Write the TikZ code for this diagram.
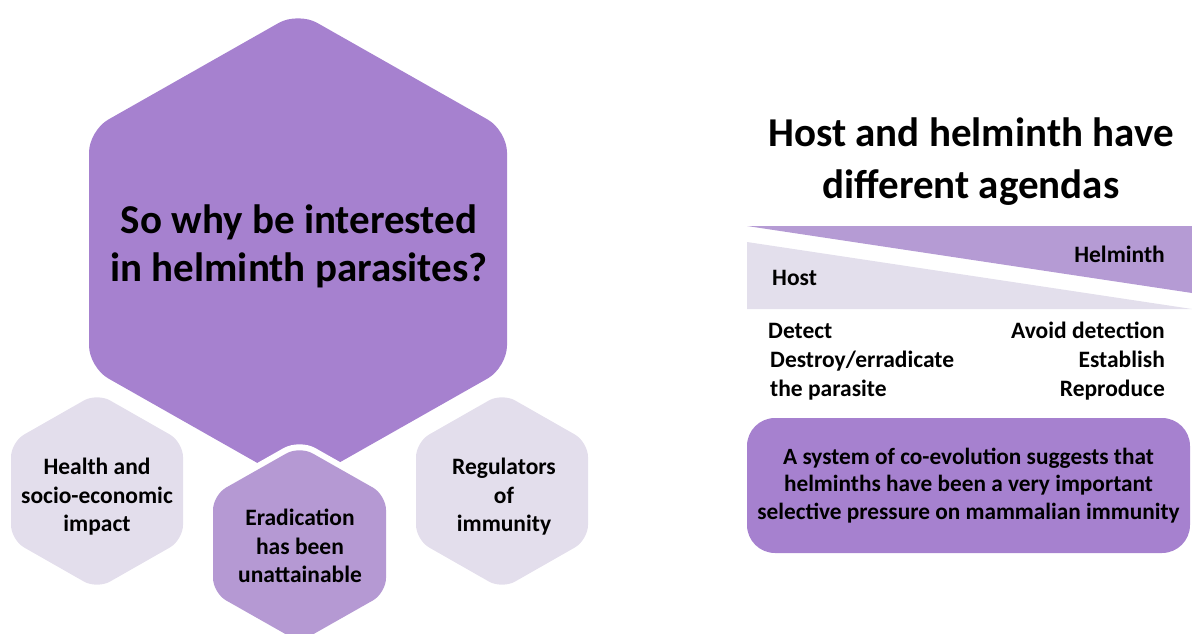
\documentclass[tikz,border=0pt]{standalone}
\usepackage{fontspec}
\setmainfont{Carlito}
\definecolor{hexdeep}{HTML}{A681CF}
\definecolor{hexmid}{HTML}{B599D3}
\definecolor{hexpale}{HTML}{E3DEEC}
\definecolor{wedgedark}{HTML}{B59BD4}
\definecolor{wedgepale}{HTML}{E3DFEC}
% pointy-topped hexagon: centre (#1,#2), half width #3, half height #4
\newcommand\hexat[4]{(#1-#3,#2) -- (#1-#3,#2-#4/2) -- (#1,#2-#4) -- (#1+#3,#2-#4/2) -- (#1+#3,#2+#4/2) -- (#1,#2+#4) -- (#1-#3,#2+#4/2) -- cycle}
\begin{document}
\begin{tikzpicture}[x=1pt,y=-1pt,
  bigtxt/.style={font=\bfseries\fontsize{41}{48}\selectfont,align=center,inner sep=0},
  hextxt/.style={font=\bfseries\fontsize{23.5}{28.5}\selectfont,align=center,inner sep=0},
  itemtxt/.style={font=\bfseries\fontsize{23.5}{28.5}\selectfont,inner sep=0},
  boxtxt/.style={font=\bfseries\fontsize{23.3}{27.8}\selectfont,align=center,inner sep=0}]
\useasboundingbox (0,0) rectangle (1192,634);

% hexagon cluster
\fill[hexdeep, rounded corners=22] \hexat{298}{249}{209}{237};
\fill[hexpale, rounded corners=15] \hexat{97}{491}{86}{98};
\fill[hexpale, rounded corners=15] \hexat{502}{491}{86}{98};
\draw[white, line width=12, rounded corners=15] \hexat{299.5}{544}{86.5}{98};
\fill[hexmid, rounded corners=15] \hexat{299.5}{544}{86.5}{98};

\node[bigtxt] (why) at (299,246) {So why be interested~\\in helminth parasites?};
\node[hextxt] (health) at (97,497) {Health and\\socio-economic\\impact};
\node[hextxt] (regul) at (504,497) {Regulators\\of\\immunity};
\node[hextxt] (erad) at (300,546) {Eradication\\has been\\unattainable};

% right panel
\node[bigtxt, font=\bfseries\fontsize{41}{52}\selectfont] (agenda) at (971,162) {Host and helminth have\\different agendas};

\fill[wedgedark] (747,226) -- (1192,226) -- (1192,293) -- cycle;
\fill[wedgepale] (747,242) -- (1192,309) -- (747,309) -- cycle;
\node[itemtxt, anchor=base east] (helm) at (1165,262) {Helminth};
\node[itemtxt, anchor=base west] (host) at (772,285) {Host};

\node[itemtxt, anchor=base west] (h1) at (768,338) {Detect};
\node[itemtxt, anchor=base west] (h2) at (770,367) {Destroy/erradicate};
\node[itemtxt, anchor=base west] (h3) at (770,396) {the parasite};
\node[itemtxt, anchor=base east] (p1) at (1165,338) {Avoid detection};
\node[itemtxt, anchor=base east] (p2) at (1165,367) {Establish};
\node[itemtxt, anchor=base east] (p3) at (1165,396) {Reproduce};

\node[fill=hexdeep, rounded corners=28, minimum width=443, minimum height=135, inner sep=0] (box) at (968.5,485.5) {};
\node[boxtxt] (coevo) at (box.center) {A system of co-evolution suggests that\\helminths have been a very important\\selective pressure on mammalian immunity};
\end{tikzpicture}
\end{document}
